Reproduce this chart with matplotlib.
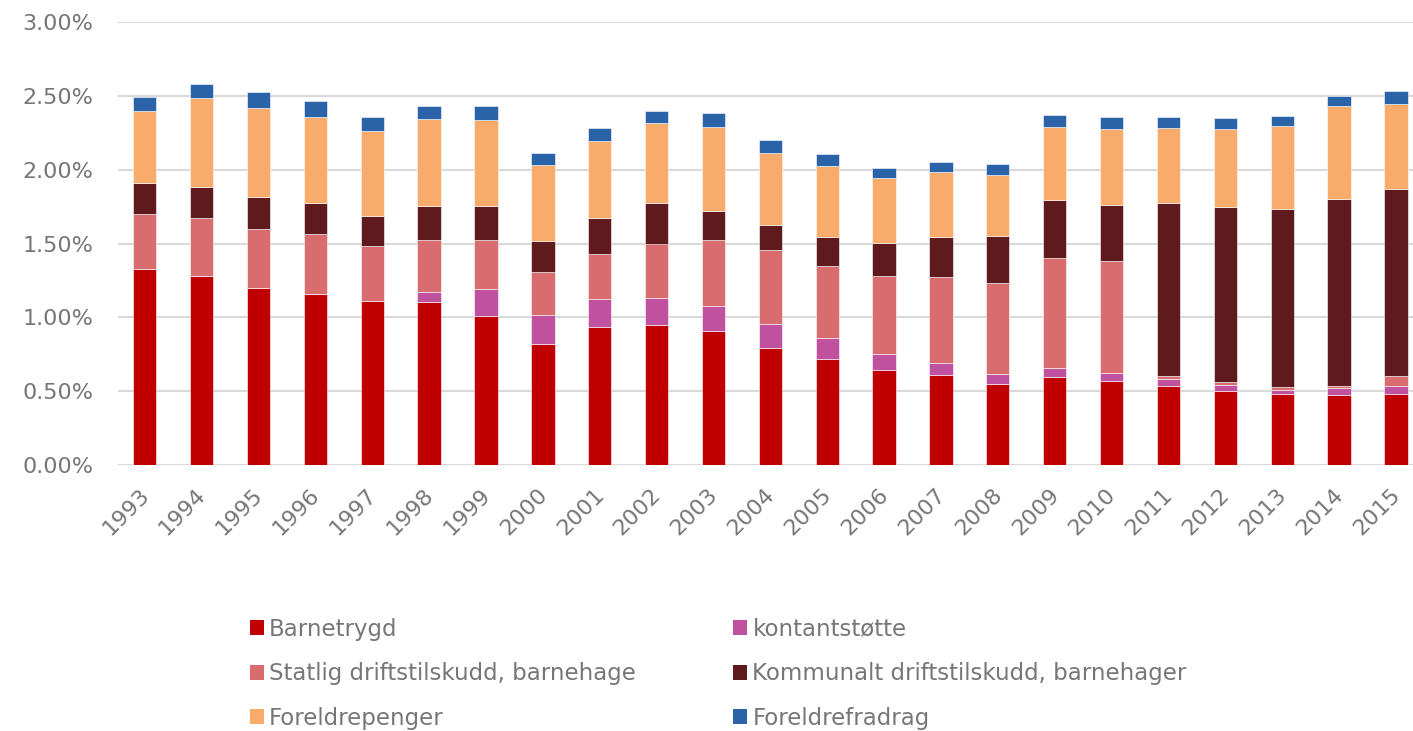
import matplotlib
matplotlib.use("Agg")
import matplotlib.pyplot as plt
from matplotlib.patches import Patch
from matplotlib.transforms import ScaledTranslation
import numpy as np

years = [str(y) for y in range(1993, 2016)]

barnetrygd = [1.327, 1.277, 1.198, 1.158, 1.110, 1.104, 1.009, 0.820, 0.935, 0.946, 0.905, 0.793,
              0.718, 0.644, 0.610, 0.550, 0.597, 0.570, 0.532, 0.502, 0.482, 0.475, 0.482]
kontantstotte = [0, 0, 0, 0, 0, 0.069, 0.185, 0.198, 0.189, 0.187, 0.174, 0.160,
                 0.145, 0.108, 0.081, 0.063, 0.063, 0.054, 0.051, 0.043, 0.027, 0.045, 0.054]
statlig = [0.376, 0.399, 0.397, 0.403, 0.370, 0.354, 0.331, 0.286, 0.306, 0.367, 0.448, 0.502,
           0.482, 0.527, 0.584, 0.621, 0.745, 0.759, 0.021, 0.020, 0.016, 0.018, 0.065]
kommunalt = [0.205, 0.205, 0.223, 0.212, 0.205, 0.230, 0.230, 0.210, 0.241, 0.277, 0.194, 0.173,
             0.202, 0.226, 0.272, 0.320, 0.390, 0.376, 1.169, 1.185, 1.211, 1.266, 1.266]
foreldrepenger = [0.486, 0.601, 0.601, 0.587, 0.574, 0.583, 0.583, 0.515, 0.523, 0.536, 0.567, 0.485,
                  0.480, 0.439, 0.435, 0.412, 0.491, 0.516, 0.506, 0.525, 0.559, 0.626, 0.577]
foreldrefradrag = [0.099, 0.099, 0.106, 0.106, 0.099, 0.092, 0.095, 0.084, 0.085, 0.086, 0.093, 0.085,
                   0.081, 0.067, 0.070, 0.070, 0.086, 0.083, 0.079, 0.076, 0.070, 0.072, 0.090]

series_names = ["Barnetrygd", "kontantstøtte", "Statlig driftstilskudd, barnehage",
                "Kommunalt driftstilskudd, barnehager", "Foreldrepenger", "Foreldrefradrag"]
series_vals = [barnetrygd, kontantstotte, statlig, kommunalt, foreldrepenger, foreldrefradrag]
colors = ["#C00000", "#C0519F", "#D86C6E", "#5F1A1D", "#F9AB6B", "#2A63A8"]

text_color = "#767676"
plt.rcParams['font.family'] = ['DejaVu Sans']

fig = plt.figure(figsize=(14.13, 7.31), dpi=100)
ax = fig.add_axes([118/1413, (731-465)/731, 1 - 118/1413, (465-22)/731])

x = np.arange(len(years))
bottom = np.zeros(len(years))
for name, vals, c in zip(series_names, series_vals, colors):
    v = np.array(vals) / 100.0
    ax.bar(x, v, width=0.41, bottom=bottom, color=c, edgecolor="white", linewidth=0.4, zorder=3)
    bottom += v

ax.set_ylim(0, 0.03)
ax.set_xlim(-0.47, 22.3)
yt = np.arange(0, 0.0301, 0.005)
ax.set_yticks(yt)
ax.set_yticklabels([f"{t*100:.2f}%" for t in yt])
ax.set_xticks(x)
ax.set_xticklabels(years, rotation=45, ha="right", rotation_mode="anchor")
ax.tick_params(axis="both", length=0, labelsize=16, labelcolor=text_color)
ax.tick_params(axis="y", pad=18)
ax.tick_params(axis="x", pad=6)
off = ScaledTranslation(-6/100, -11/100, fig.dpi_scale_trans)
for lbl in ax.get_xticklabels():
    lbl.set_transform(lbl.get_transform() + off)
ax.grid(axis="y", color="#D9D9D9", linewidth=1.5, zorder=0)
for s in ax.spines.values():
    s.set_visible(False)

order = [0, 2, 4, 1, 3, 5]
handles = [Patch(facecolor=colors[i], edgecolor="none") for i in order]
labels = [series_names[i] for i in order]
leg = fig.legend(handles, labels, ncol=2, loc="upper left",
                 bbox_to_anchor=(229/1413, 1 - 597/731), frameon=False,
                 fontsize=16.5, labelcolor=text_color, handlelength=0.62, handleheight=0.62,
                 handletextpad=0.22, columnspacing=4.25, labelspacing=0.94)

fig.savefig("out.png", dpi=100)
